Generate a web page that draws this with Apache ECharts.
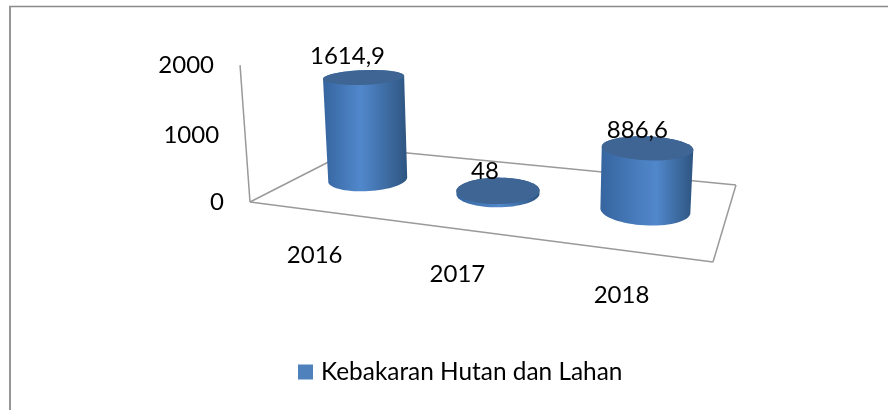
<!DOCTYPE html>
<html><head><meta charset="utf-8">
<style>html,body{margin:0;padding:0;background:#fff}#c{width:888px;height:410px}</style>
<script src="https://cdn.jsdelivr.net/npm/echarts@6/dist/echarts.min.js"></script>
</head><body><div id="c"></div>
<script>
const categories = ['2016', '2017', '2018'];
const seriesName = 'Kebakaran Hutan dan Lahan';
const values = [1614.9, 48, 886.6];
const valueLabels = ['1614,9', '48', '886,6'];
const yTicks = [0, 1000, 2000];

const FONT = 'Lato, "Noto Sans", sans-serif';
const FS = 24;
const GRID = {left: 100, top: 50, width: 600, height: 300};
const YMAX = 2000;
// floor corners on screen: front-left, front-right, back-right, back-left
const Q = [[250,202],[713,262],[736,185],[356,148]];
const VP = [519,3900], K = -0.0357;
const RU = 0.094, RV = 0.2;

const H = (function(){
  const [p0,p1,p2,p3] = Q;
  const dx1=p1[0]-p2[0], dx2=p3[0]-p2[0], sx=p0[0]-p1[0]+p2[0]-p3[0];
  const dy1=p1[1]-p2[1], dy2=p3[1]-p2[1], sy=p0[1]-p1[1]+p2[1]-p3[1];
  const den=dx1*dy2-dx2*dy1;
  const g=(sx*dy2-dx2*sy)/den, h=(dx1*sy-sx*dy1)/den;
  return {a:p1[0]-p0[0]+g*p1[0], b:p3[0]-p0[0]+h*p3[0], c:p0[0],
          d:p1[1]-p0[1]+g*p1[1], e:p3[1]-p0[1]+h*p3[1], f:p0[1], g, h};
})();
function project(u,v,t){
  const w=H.g*u+H.h*v+1+K*t;
  return [(H.a*u+H.b*v+H.c+K*VP[0]*t)/w,(H.d*u+H.e*v+H.f+K*VP[1]*t)/w];
}
function ring(u,v,t){
  const pts=[];
  for(let i=0;i<72;i++){
    const a=i/72*Math.PI*2;
    pts.push(project(u+RU*Math.cos(a),v+RV*Math.sin(a),t));
  }
  return pts;
}
function hull(points){
  const p=points.slice().sort((a,b)=>a[0]-b[0]||a[1]-b[1]);
  const cross=(o,a,b)=>(a[0]-o[0])*(b[1]-o[1])-(a[1]-o[1])*(b[0]-o[0]);
  const lo=[],up=[];
  for(const q of p){while(lo.length>1&&cross(lo[lo.length-2],lo[lo.length-1],q)<=0)lo.pop();lo.push(q);}
  for(const q of p.reverse()){while(up.length>1&&cross(up[up.length-2],up[up.length-1],q)<=0)up.pop();up.push(q);}
  return lo.slice(0,-1).concat(up.slice(0,-1));
}
function norm(cs,pt){return {u:(pt[0]-cs.x)/cs.width,t:(cs.y+cs.height-pt[1])/cs.height};}

function renderCylinder(params,api){
  const i=api.value(0), val=api.value(1), cs=params.coordSys;
  const {u}=norm(cs,api.coord([i,0]));
  const {t}=norm(cs,api.coord([i,val]));
  const bottom=ring(u,0.5,0), top=ring(u,0.5,t);
  const peak=0.41+0.23*u;
  const fill=new echarts.graphic.LinearGradient(0,0,1,0,[
    {offset:0,color:'#36659F'},{offset:peak,color:'#5188CC'},{offset:1,color:'#2E5581'}]);
  const c=project(u,0.5,t);
  return {type:'group',children:[
    {type:'polygon',shape:{points:hull(bottom.concat(top))},style:{fill}},
    {type:'polygon',shape:{points:top},style:{fill:'#3E6593'}},
    {type:'text',z2:5,style:{text:valueLabels[i],x:c[0]-18+10*u,y:c[1]-22+6*u,align:'center',verticalAlign:'middle',
      font:FS+'px '+FONT,fill:'#000'}}
  ]};
}
function renderFrame(params,api){
  const line=(a,b)=>({type:'line',shape:{x1:a[0],y1:a[1],x2:b[0],y2:b[1]},style:{stroke:'#9a9a9a',lineWidth:1.5}});
  const children=[
    line(project(0,0,0),project(0,0,1)),
    line(project(0,0,0),project(1,0,0)),
    line(project(1,0,0),project(1,1,0)),
    line(project(1,1,0),project(0,1,0)),
    line(project(0,1,0),project(0,0,0))
  ];
  const cs=params.coordSys;
  yTicks.forEach(tk=>{
    const {t}=norm(cs,api.coord([0,tk]));
    const p=project(0,0,t);
    children.push({type:'text',style:{text:String(tk),x:p[0]-26,y:p[1],align:'right',verticalAlign:'middle',font:FS+'px '+FONT,fill:'#000'}});
  });
  categories.forEach((c,i)=>{
    const {u}=norm(cs,api.coord([i,0]));
    const p=project(u,0,0);
    children.push({type:'text',style:{text:c,x:p[0],y:p[1]+45,align:'center',verticalAlign:'middle',font:FS+'px '+FONT,fill:'#000'}});
  });
  return {type:'group',children};
}

const chart=echarts.init(document.getElementById('c'),null,{renderer:'canvas'});
chart.setOption({
  animation:false,
  backgroundColor:'#fff',
  grid:Object.assign({},GRID),
  xAxis:{type:'category',data:categories,show:false},
  yAxis:{type:'value',min:0,max:YMAX,show:false},
  legend:{show:true,data:[{name:seriesName,icon:'rect'}],left:298,top:360,padding:0,itemWidth:15,itemHeight:15,
    textStyle:{fontFamily:FONT,fontSize:24.4,color:'#000',padding:[0,0,0,3]}},
  graphic:[
    {type:'line',shape:{x1:9,y1:6.5,x2:888,y2:6.5},style:{stroke:'#8a8a8a',lineWidth:1.5}},
    {type:'line',shape:{x1:10,y1:6,x2:10,y2:410},style:{stroke:'#969696',lineWidth:2}}
  ],
  series:[
    {type:'custom',name:'frame',silent:true,z:1,renderItem:renderFrame,data:[[0,0]],encode:{x:0,y:1}},
    {type:'custom',name:seriesName,z:2,renderItem:renderCylinder,itemStyle:{color:'#4F81BD'},
     data:values.map((v,i)=>[i,v]),encode:{x:0,y:1}}
  ]
});
</script></body></html>
